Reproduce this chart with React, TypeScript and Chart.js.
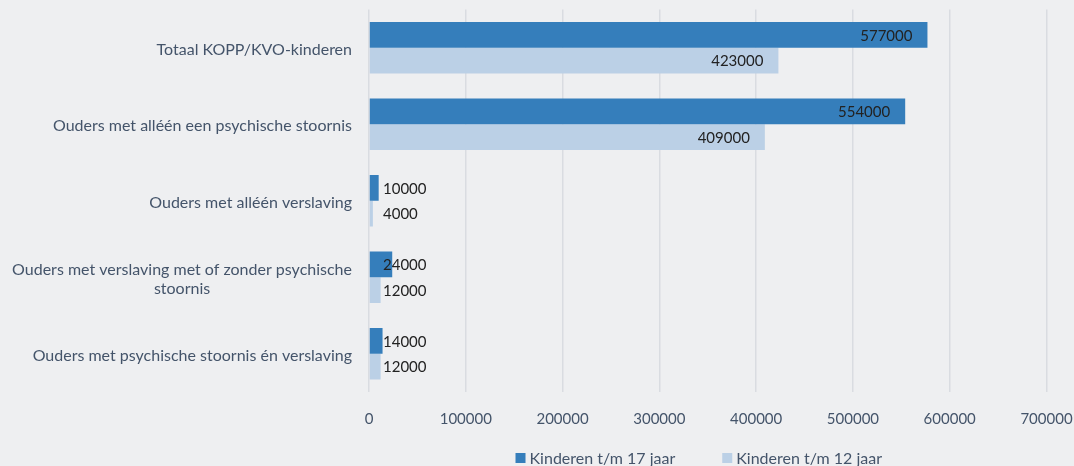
import React, { useEffect, useRef } from "react";
import { Chart, registerables } from "chart.js";

Chart.register(...registerables);

// Category labels (multi-line entries are wrapped the way they are shown)
const categories: string[][] = [
  ["Totaal KOPP/KVO-kinderen"],
  ["Ouders met alléén een psychische stoornis"],
  ["Ouders met alléén verslaving"],
  ["Ouders met verslaving met of zonder psychische", "stoornis"],
  ["Ouders met psychische stoornis én verslaving"],
];

const seriesNames = ["Kinderen t/m 17 jaar", "Kinderen t/m 12 jaar"];
const kinderenTot17 = [577000, 554000, 10000, 24000, 14000];
const kinderenTot12 = [423000, 409000, 4000, 12000, 12000];

const axisMin = 0;
const axisMax = 700000;
const axisStep = 100000;

const FONT = "Lato";
const BG = "#EEEFF1";
const TEXT = "#44546A";
const VALUE_TEXT = "#222222";
const DARK_BLUE = "#357EBB";
const LIGHT_BLUE = "#BBD0E6";
const GRID = "#D9DCE1";
const seriesColors = [DARK_BLUE, LIGHT_BLUE];

const W = 1074;
const H = 466;

// Draws the category names to the left of the plot; wrapped names are centred
// as a block whose right edge lines up with the single-line names.
const categoryLabelPlugin = {
  id: "categoryLabels",
  afterDraw(chart: any) {
    const { ctx, chartArea } = chart;
    const yScale = chart.scales.y;
    ctx.save();
    ctx.font = `16px ${FONT}`;
    ctx.fillStyle = TEXT;
    ctx.textBaseline = "middle";
    ctx.textAlign = "center";
    const right = chartArea.left - 17;
    const lineH = 19;
    categories.forEach((lines, i) => {
      const cy = yScale.getPixelForValue(i) + 2;
      const maxW = Math.max(...lines.map((l) => ctx.measureText(l).width));
      const cx = right - maxW / 2;
      const y0 = cy - ((lines.length - 1) * lineH) / 2;
      lines.forEach((l, j) => ctx.fillText(l, cx, y0 + j * lineH));
    });
    ctx.restore();
  },
};

// Value labels: inside the end of long bars, just right of the axis for short ones
const valueLabelPlugin = {
  id: "valueLabels",
  afterDatasetsDraw(chart: any) {
    const { ctx } = chart;
    const xScale = chart.scales.x;
    const zeroX = xScale.getPixelForValue(0);
    ctx.save();
    ctx.font = `15px ${FONT}`;
    ctx.fillStyle = VALUE_TEXT;
    ctx.textBaseline = "middle";
    chart.data.datasets.forEach((ds: any, di: number) => {
      const meta = chart.getDatasetMeta(di);
      meta.data.forEach((bar: any, i: number) => {
        const v = ds.data[i] as number;
        const text = String(v);
        if (v >= 100000) {
          ctx.textAlign = "right";
          ctx.fillText(text, bar.x - 15, bar.y + 1);
        } else {
          ctx.textAlign = "left";
          ctx.fillText(text, zeroX + 14, bar.y + 1);
        }
      });
    });
    ctx.restore();
  },
};

// Legend row below the axis, centred under the plot area
const legendPlugin = {
  id: "bottomLegend",
  afterDraw(chart: any) {
    const { ctx, chartArea } = chart;
    ctx.save();
    ctx.font = `16px ${FONT}`;
    ctx.textBaseline = "middle";
    ctx.textAlign = "left";
    const boxSize = 10;
    const boxGap = 4;
    const itemGap = 47;
    const widths = seriesNames.map((n) => ctx.measureText(n).width);
    const total =
      widths.reduce((a, w) => a + boxSize + boxGap + w, 0) +
      itemGap * (seriesNames.length - 1);
    const centerX = (chartArea.left + chartArea.right) / 2 - 9;
    const cy = 458;
    let x = centerX - total / 2;
    seriesNames.forEach((n, i) => {
      ctx.fillStyle = seriesColors[i];
      ctx.fillRect(x, cy - boxSize / 2, boxSize, boxSize);
      ctx.fillStyle = TEXT;
      ctx.fillText(n, x + boxSize + boxGap, cy + 1);
      x += boxSize + boxGap + widths[i] + itemGap;
    });
    ctx.restore();
  },
};

export default function App() {
  const canvasRef = useRef<HTMLCanvasElement | null>(null);

  useEffect(() => {
    document.body.style.margin = "0";
    document.body.style.background = BG;
    const canvas = canvasRef.current;
    if (!canvas) return;
    const chart = new Chart(canvas, {
      type: "bar",
      data: {
        labels: categories,
        datasets: [
          {
            label: seriesNames[0],
            data: kinderenTot17,
            backgroundColor: DARK_BLUE,
            borderWidth: 0,
            barPercentage: 1,
            categoryPercentage: 0.67,
          },
          {
            label: seriesNames[1],
            data: kinderenTot12,
            backgroundColor: LIGHT_BLUE,
            borderWidth: 0,
            barPercentage: 1,
            categoryPercentage: 0.67,
          },
        ],
      },
      options: {
        indexAxis: "y",
        responsive: false,
        animation: false,
        layout: { padding: { top: 9.5, right: 27.5, left: 0, bottom: 20 } },
        scales: {
          x: {
            min: axisMin,
            max: axisMax,
            ticks: {
              stepSize: axisStep,
              color: TEXT,
              font: { family: FONT, size: 15 },
              padding: 18,
              maxRotation: 0,
              callback: (v: any) => String(v),
            },
            grid: { color: GRID, lineWidth: 1.5, drawTicks: false },
            border: { display: false },
            afterFit: (s: any) => {
              s.paddingLeft = 0;
              s.paddingRight = 0;
            },
          },
          y: {
            ticks: { display: false },
            grid: { display: false },
            border: { display: false },
            afterFit: (s: any) => {
              s.width = 369;
            },
          },
        },
        plugins: {
          legend: { display: false },
          tooltip: { enabled: false },
        },
      },
      plugins: [categoryLabelPlugin, valueLabelPlugin, legendPlugin],
    } as any);
    return () => chart.destroy();
  }, []);

  return (
    <div
      style={{
        position: "fixed",
        left: 0,
        top: 0,
        width: W,
        height: H,
        overflow: "hidden",
        background: BG,
      }}
    >
      <canvas
        ref={canvasRef}
        width={W}
        height={H}
        style={{ width: W, height: H, display: "block" }}
      />
    </div>
  );
}
